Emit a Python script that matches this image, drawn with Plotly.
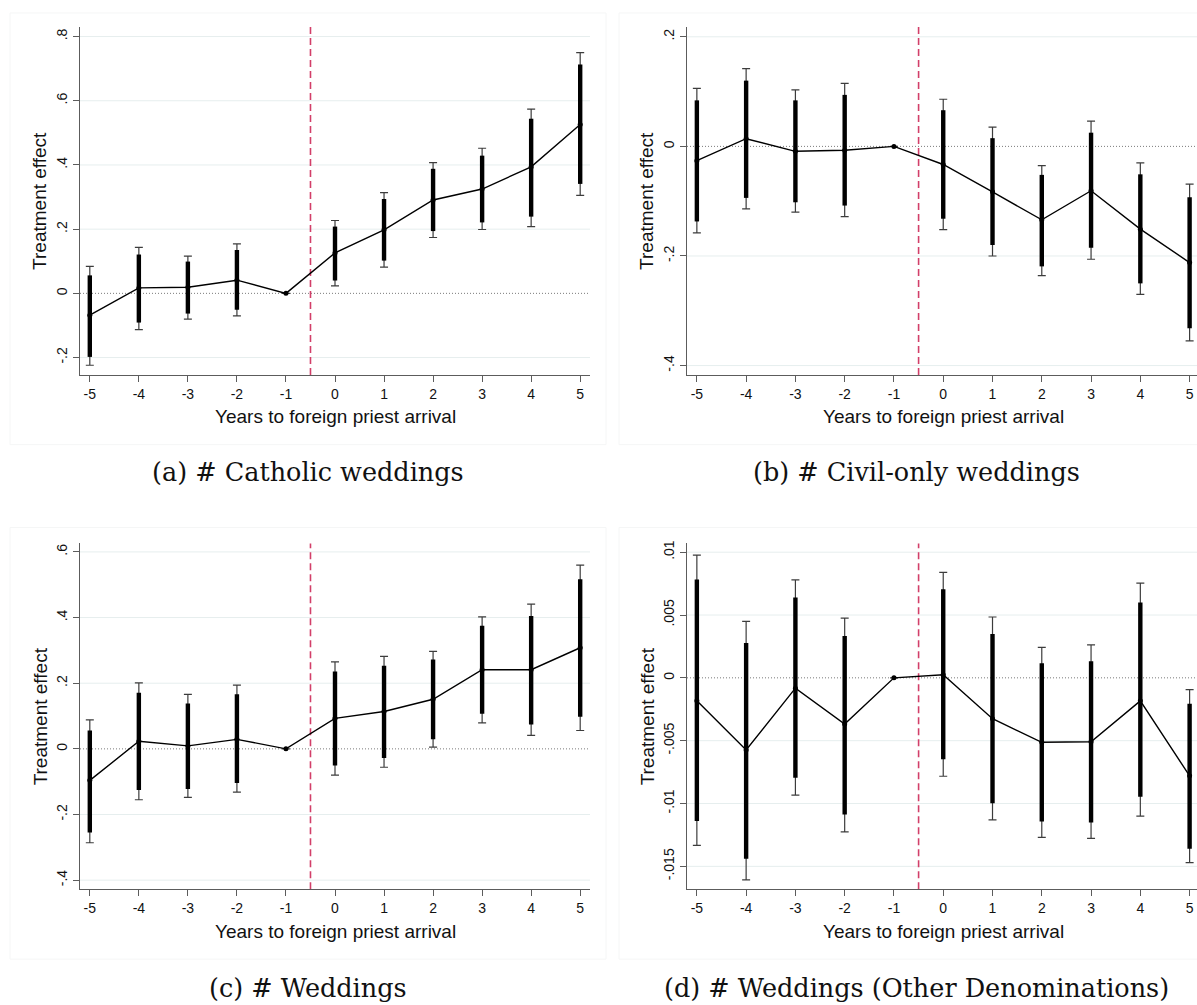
import plotly.graph_objects as go

# ---------------- data ----------------
years = [-5, -4, -3, -2, -1, 0, 1, 2, 3, 4, 5]
x_tick_labels = ["-5", "-4", "-3", "-2", "-1", "0", "1", "2", "3", "4", "5"]
event_x = -0.5

a_coef = [-0.068, 0.017, 0.019, 0.041, 0.0, 0.126, 0.198, 0.291, 0.325, 0.394, 0.526]
a_lo90 = [-0.198, -0.091, -0.063, -0.051, None, 0.040, 0.102, 0.194, 0.221, 0.239, 0.341]
a_hi90 = [0.056, 0.121, 0.099, 0.135, None, 0.208, 0.294, 0.388, 0.429, 0.544, 0.713]
a_lo95 = [-0.224, -0.113, -0.080, -0.070, None, 0.023, 0.082, 0.174, 0.199, 0.208, 0.305]
a_hi95 = [0.084, 0.143, 0.116, 0.154, None, 0.227, 0.314, 0.407, 0.452, 0.574, 0.750]

b_coef = [-0.026, 0.014, -0.009, -0.007, 0.0, -0.033, -0.083, -0.134, -0.081, -0.151, -0.212]
b_lo90 = [-0.137, -0.094, -0.102, -0.108, None, -0.132, -0.180, -0.219, -0.185, -0.250, -0.332]
b_hi90 = [0.084, 0.120, 0.084, 0.094, None, 0.066, 0.015, -0.052, 0.025, -0.051, -0.093]
b_lo95 = [-0.158, -0.114, -0.120, -0.128, None, -0.152, -0.200, -0.236, -0.206, -0.270, -0.355]
b_hi95 = [0.106, 0.142, 0.103, 0.115, None, 0.086, 0.035, -0.035, 0.046, -0.030, -0.069]

c_coef = [-0.096, 0.023, 0.009, 0.029, 0.0, 0.093, 0.114, 0.151, 0.241, 0.241, 0.308]
c_lo90 = [-0.255, -0.125, -0.122, -0.104, None, -0.051, -0.028, 0.029, 0.107, 0.074, 0.098]
c_hi90 = [0.056, 0.171, 0.138, 0.166, None, 0.236, 0.253, 0.272, 0.375, 0.405, 0.517]
c_lo95 = [-0.286, -0.155, -0.148, -0.132, None, -0.080, -0.056, 0.005, 0.079, 0.041, 0.056]
c_hi95 = [0.088, 0.201, 0.166, 0.194, None, 0.265, 0.282, 0.297, 0.402, 0.441, 0.560]

d_coef = [-0.00183, -0.00574, -0.00082, -0.00368, 0.0, 0.00024, -0.00325, -0.00513, -0.00508, -0.00183, -0.0078]
d_lo90 = [-0.0114, -0.01439, -0.00794, -0.01087, None, -0.00648, -0.00997, -0.01143, -0.01151, -0.00947, -0.0136]
d_hi90 = [0.00783, 0.00278, 0.0064, 0.00333, None, 0.00704, 0.00349, 0.00116, 0.00132, 0.0060, -0.00206]
d_lo95 = [-0.01333, -0.01608, -0.00934, -0.01225, None, -0.00783, -0.0113, -0.0127, -0.01278, -0.0110, -0.01471]
d_hi95 = [0.00976, 0.0045, 0.0078, 0.00476, None, 0.00839, 0.00484, 0.00243, 0.00262, 0.00754, -0.00093]

a_yticks = [-0.2, 0, 0.2, 0.4, 0.6, 0.8]
a_ylabels = ["-.2", "0", ".2", ".4", ".6", ".8"]
b_yticks = [-0.4, -0.2, 0, 0.2]
b_ylabels = ["-.4", "-.2", "0", ".2"]
c_yticks = [-0.4, -0.2, 0, 0.2, 0.4, 0.6]
c_ylabels = ["-.4", "-.2", "0", ".2", ".4", ".6"]
d_yticks = [-0.015, -0.01, -0.005, 0, 0.005, 0.01]
d_ylabels = ["-.015", "-.01", "-.005", "0", ".005", ".01"]

captions = ["(a) # Catholic weddings", "(b) # Civil-only weddings",
            "(c) # Weddings", "(d) # Weddings (Other Denominations)"]
y_title = "Treatment effect"
x_title = "Years to foreign priest arrival"

# ---------------- layout helpers ----------------
W, H = 1197, 1005


def px_x(p):
    return p / W


def px_y(p):
    return 1 - p / H


panels = [
    dict(coef=a_coef, lo90=a_lo90, hi90=a_hi90, lo95=a_lo95, hi95=a_hi95,
         ticks=a_yticks, labels=a_ylabels, yrange=[-0.254, 0.830],
         xdom=[80, 590], ydom=[24, 373], xrange=[-5.2, 5.2],
         box=[10, 10, 606, 443], cap=(308, 470), xtc=335),
    dict(coef=b_coef, lo90=b_lo90, hi90=b_hi90, lo95=b_lo95, hi95=b_hi95,
         ticks=b_yticks, labels=b_ylabels, yrange=[-0.417, 0.218],
         xdom=[687, 1197], ydom=[24, 373], xrange=[-5.2, 5.15],
         box=[619, 10, 1215, 443], cap=(916, 470), xtc=943),
    dict(coef=c_coef, lo90=c_lo90, hi90=c_hi90, lo95=c_lo95, hi95=c_hi95,
         ticks=c_yticks, labels=c_ylabels, yrange=[-0.428, 0.626],
         xdom=[80, 590], ydom=[542, 889], xrange=[-5.2, 5.2],
         box=[10, 526, 606, 959], cap=(308, 988), xtc=335),
    dict(coef=d_coef, lo90=d_lo90, hi90=d_hi90, lo95=d_lo95, hi95=d_hi95,
         ticks=d_yticks, labels=d_ylabels, yrange=[-0.01683, 0.0107],
         xdom=[687, 1197], ydom=[542, 889], xrange=[-5.2, 5.15],
         box=[619, 526, 1215, 959], cap=(916, 988), xtc=943),
]

AXIS_COLOR = "#5c5c5c"
GRID_COLOR = "#e6eeee"
TICK_FONT = dict(family="Liberation Sans, Arial, sans-serif", size=14, color="#111111")
TITLE_FONT = dict(family="Liberation Sans, Arial, sans-serif", size=19, color="#111111")
CAP_FONT = dict(family="DejaVu Serif, serif", size=25.5, color="#111111")

fig = go.Figure()
shapes = []
annotations = []


def err(vals, base, upper=True):
    out = []
    for v, c in zip(vals, base):
        if v is None:
            out.append(None)
        else:
            out.append((v - c) if upper else (c - v))
    return out


for i, p in enumerate(panels):
    n = "" if i == 0 else str(i + 1)
    xa, ya = "x" + n, "y" + n
    # 95% CI (thin, capped)
    fig.add_trace(go.Scatter(
        x=years, y=p["coef"], xaxis=xa, yaxis=ya, mode="markers",
        marker=dict(size=0.1, color="rgba(0,0,0,0)"), showlegend=False, hoverinfo="skip",
        error_y=dict(type="data", symmetric=False,
                     array=err(p["hi95"], p["coef"], True),
                     arrayminus=err(p["lo95"], p["coef"], False),
                     color="#3c3c3c", thickness=1.2, width=4)))
    # 90% CI (thick)
    fig.add_trace(go.Scatter(
        x=years, y=p["coef"], xaxis=xa, yaxis=ya, mode="markers",
        marker=dict(size=0.1, color="rgba(0,0,0,0)"), showlegend=False, hoverinfo="skip",
        error_y=dict(type="data", symmetric=False,
                     array=err(p["hi90"], p["coef"], True),
                     arrayminus=err(p["lo90"], p["coef"], False),
                     color="#000000", thickness=4.4, width=0)))
    # point estimates
    fig.add_trace(go.Scatter(
        x=years, y=p["coef"], xaxis=xa, yaxis=ya, mode="lines+markers",
        line=dict(color="#000000", width=1.4),
        marker=dict(size=5, color="#000000"), showlegend=False))

    fig.update_layout(**{
        ("xaxis" + n): dict(
            domain=[px_x(p["xdom"][0]), min(1.0, px_x(p["xdom"][1]))],
            range=p["xrange"], anchor=ya,
            tickmode="array", tickvals=years, ticktext=x_tick_labels,
            ticks="outside", ticklen=6, tickwidth=1.2, tickcolor=AXIS_COLOR,
            showline=True, linecolor=AXIS_COLOR, linewidth=1.3,
            showgrid=False, zeroline=False, tickfont=TICK_FONT),
        ("yaxis" + n): dict(
            domain=[px_y(p["ydom"][1]), px_y(p["ydom"][0])],
            range=p["yrange"], anchor=xa,
            tickmode="array", tickvals=p["ticks"], ticktext=p["labels"],
            tickangle=-90,
            ticks="outside", ticklen=6, tickwidth=1.2, tickcolor=AXIS_COLOR,
            showline=True, linecolor=AXIS_COLOR, linewidth=1.3,
            showgrid=False, zeroline=False, tickfont=TICK_FONT),
    })

    # horizontal grid lines at the tick values (zero gets the dotted reference line)
    for tv in p["ticks"]:
        if tv == 0:
            continue
        shapes.append(dict(type="line", xref=xa + " domain", yref=ya, x0=0, x1=1, y0=tv, y1=tv,
                           line=dict(color=GRID_COLOR, width=1), layer="below"))
    # zero reference line (dotted)
    shapes.append(dict(type="line", xref=xa + " domain", yref=ya, x0=0, x1=1, y0=0, y1=0,
                       line=dict(color="#7a7a7a", width=1, dash="1px,2px"), layer="below"))
    # event line (dashed)
    shapes.append(dict(type="line", xref=xa, yref=ya + " domain", x0=event_x, x1=event_x,
                       y0=0, y1=1, line=dict(color="#d23f69", width=1.6, dash="7px,4px"),
                       layer="below"))
    # faint panel frame
    bx0, by0, bx1, by1 = p["box"]
    shapes.append(dict(type="rect", xref="paper", yref="paper",
                       x0=px_x(bx0), x1=px_x(bx1), y0=px_y(by1), y1=px_y(by0),
                       line=dict(color="#f5f6f6", width=1), layer="below"))

    # axis titles
    annotations.append(dict(text=x_title, xref="paper", yref="paper",
                            x=px_x(p["xtc"]), y=px_y(p["ydom"][1] + 42), showarrow=False,
                            xanchor="center", yanchor="middle", font=TITLE_FONT))
    annotations.append(dict(text=y_title, xref="paper", yref="paper",
                            x=px_x(p["xdom"][0] - 40), y=px_y((p["ydom"][0] + p["ydom"][1]) / 2),
                            showarrow=False, textangle=-90,
                            xanchor="center", yanchor="middle", font=TITLE_FONT))
    # caption
    annotations.append(dict(text=captions[i], xref="paper", yref="paper",
                            x=px_x(p["cap"][0]), y=px_y(p["cap"][1]), showarrow=False,
                            xanchor="center", yanchor="middle", font=CAP_FONT))

fig.update_layout(
    width=W, height=H,
    margin=dict(l=0, r=0, t=0, b=0),
    paper_bgcolor="white", plot_bgcolor="white",
    shapes=shapes, annotations=annotations, showlegend=False,
)

fig.write_html(
    "out.html",
    config={"displayModeBar": False},
    post_script="document.body.style.margin='0';document.body.style.overflow='hidden';",
)
